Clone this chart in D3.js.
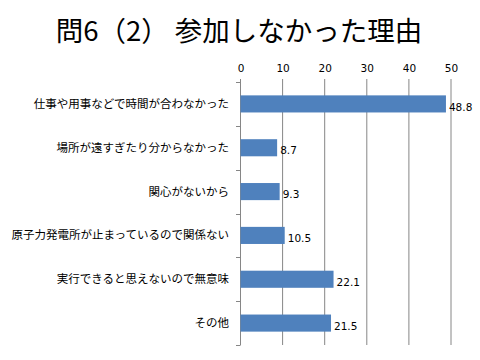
<!DOCTYPE html>
<html><head><meta charset="utf-8">
<script src="https://cdn.jsdelivr.net/npm/d3@7"></script>
<style>body{margin:0;background:#fff}</style>
</head><body>
<svg id="c" width="480" height="360"></svg>
<script>
const categories = ["仕事や用事などで時間が合わなかった","場所が遠すぎたり分からなかった","関心がないから","原子力発電所が止まっているので関係ない","実行できると思えないので無意味","その他"];
const values = [48.8, 8.7, 9.3, 10.5, 22.1, 21.5];
const tickValues = [0,10,20,30,40,50];
const title = "問6（2） 参加しなかった理由";

const svg = d3.select("#c");
const x = d3.scaleLinear().domain([0,50]).range([240.5,451]);
const y = d3.scaleBand().domain(categories).range([82,345]).paddingInner(0.61).paddingOuter(0.305);

svg.append("text").attr("x",239).attr("y",41).attr("text-anchor","middle")
  .attr("font-family","'Noto Sans CJK JP'").attr("font-size",27.5).attr("fill","#000").text(title);

// gridlines
svg.append("g").selectAll("line").data(tickValues).join("line")
  .attr("x1",d=>x(d)).attr("x2",d=>x(d)).attr("y1",79).attr("y2",345)
  .attr("stroke","#868686").attr("stroke-width",1);

// top axis labels
const ax = svg.append("g").attr("transform","translate(0,79)")
  .call(d3.axisTop(x).tickValues(tickValues).tickSize(0).tickPadding(7));
ax.select(".domain").remove();
ax.selectAll("text").attr("font-family","'DejaVu Sans'").attr("font-size",10.5).attr("fill","#000");

// left axis line + ticks
const band = y.step();
const bounds = d3.range(categories.length+1).map(i=>82+i*band);
svg.append("line").attr("x1",240.5).attr("x2",240.5).attr("y1",82).attr("y2",345).attr("stroke","#868686");
svg.append("g").selectAll("line").data(bounds).join("line")
  .attr("x1",236).attr("x2",240.5).attr("y1",d=>Math.round(d)+0.5).attr("y2",d=>Math.round(d)+0.5)
  .attr("stroke","#868686");

// category labels
svg.append("g").selectAll("text").data(categories).join("text")
  .attr("x",229).attr("y",d=>y(d)+y.bandwidth()/2).attr("dy","0.35em")
  .attr("text-anchor","end").attr("font-family","'Noto Sans CJK JP'").attr("font-size",11.5).attr("fill","#000")
  .text(d=>d);

// bars
svg.append("g").selectAll("rect").data(values).join("rect")
  .attr("x",x(0)).attr("y",(d,i)=>y(categories[i])).attr("width",d=>x(d)-x(0)).attr("height",y.bandwidth())
  .attr("fill","#4F81BD");

// value labels
svg.append("g").selectAll("text").data(values).join("text")
  .attr("x",d=>x(d)+3).attr("y",(d,i)=>y(categories[i])+y.bandwidth()/2+3).attr("dy","0.35em")
  .attr("font-family","'DejaVu Sans'").attr("font-size",10.5).attr("fill","#000")
  .text(d=>d.toFixed(1));
</script>
</body></html>
